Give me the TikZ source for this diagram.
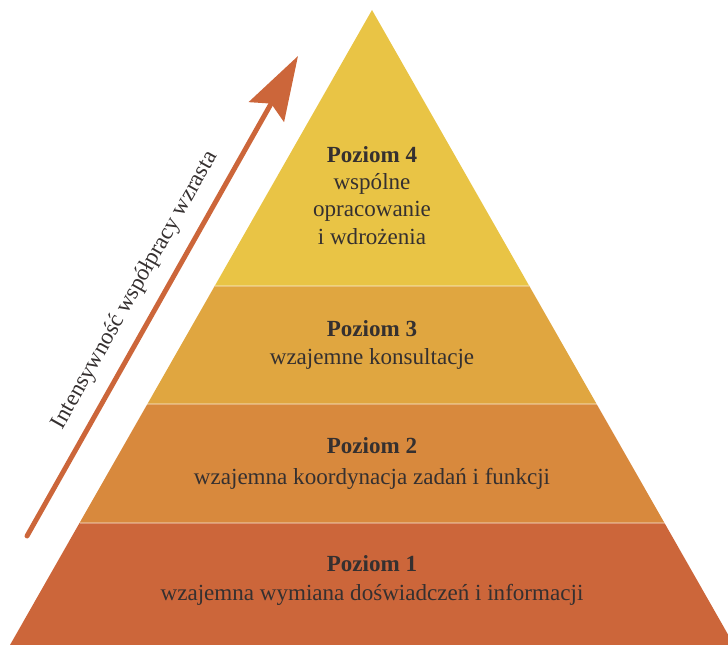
\documentclass[tikz,border=0pt]{standalone}
\usepackage{fontspec}
\setmainfont{Liberation Serif}
\usetikzlibrary{arrows.meta}
\definecolor{lvlA}{HTML}{CC663A}
\definecolor{lvlB}{HTML}{D8893D}
\definecolor{lvlC}{HTML}{E0A640}
\definecolor{lvlD}{HTML}{E9C445}
\definecolor{txt}{HTML}{353030}
\definecolor{arrowc}{HTML}{CC663A}
\begin{document}
\begin{tikzpicture}[x=0.75pt,y=-0.75pt,
  title/.style={font=\fontsize{17.3}{20}\selectfont\bfseries, text=txt, anchor=base, inner sep=0pt},
  desc/.style={font=\fontsize{17.3}{20}\selectfont, text=txt, anchor=base, inner sep=0pt},
  sep/.style={draw=white, draw opacity=0.3, line width=0.8pt}]
\useasboundingbox (0,0) rectangle (728,645);
\clip (0,0) rectangle (728,645);
% bands
\fill[lvlA] (10,645) -- (79.5,523) -- (664.5,523) -- (734,645) -- cycle;
\fill[lvlB] (79.5,523) -- (147.4,404) -- (596.6,404) -- (664.5,523) -- cycle;
\fill[lvlC] (147.4,404) -- (214.7,286) -- (529.3,286) -- (596.6,404) -- cycle;
\fill[lvlD] (214.7,286) -- (372,10) -- (529.3,286) -- cycle;
\draw[sep] (79.5,523) -- (664.5,523);
\draw[sep] (147.4,404) -- (596.6,404);
\draw[sep] (214.7,286) -- (529.3,286);
% texts
\node[title] (t4) at (372,163) {Poziom 4};
\node[desc] (d4a) at (372,190) {wspólne};
\node[desc] (d4b) at (372,217) {opracowanie};
\node[desc] (d4c) at (372,245) {i wdrożenia};
\node[title] (t3) at (372,336) {Poziom 3};
\node[desc] (d3) at (372,364) {wzajemne konsultacje};
\node[title] (t2) at (372,453) {Poziom 2};
\node[desc] (d2) at (372,484) {wzajemna koordynacja zadań i funkcji};
\node[title] (t1) at (372,571) {Poziom 1};
\node[desc] (d1) at (372,600) {wzajemna wymiana doświadczeń i informacji};
% arrow
\coordinate (as) at (27,536);
\coordinate (ae) at (298,56);
\draw[arrowc, line width=3.7pt, line cap=round,
  -{Stealth[length=48pt,width=30pt,inset=7pt]}] (as) -- (ae);
\node[desc, rotate=60.55] (lab) at (140,293) {Intensywność współpracy wzrasta};
\end{tikzpicture}
\end{document}
